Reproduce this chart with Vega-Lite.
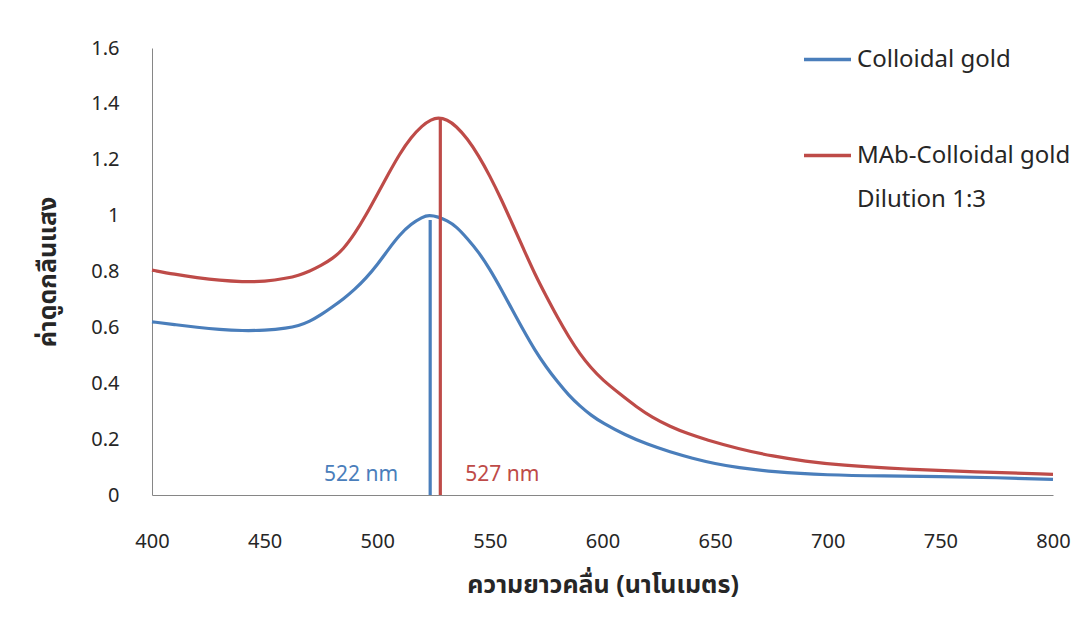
{
  "$schema": "https://vega.github.io/schema/vega-lite/v6.json",
  "width": 901,
  "height": 447,
  "autosize": {"type": "none"},
  "padding": {"left": 152, "top": 48, "right": 35, "bottom": 135},
  "background": "white",
  "config": {"view": {"stroke": null}, "font": "Noto Sans"},
  "layer": [
    {
      "data": {
        "values": [
          {"wl": 400, "abs": 0.620, "series": "Colloidal gold"},
          {"wl": 410, "abs": 0.610, "series": "Colloidal gold"},
          {"wl": 420, "abs": 0.600, "series": "Colloidal gold"},
          {"wl": 430, "abs": 0.592, "series": "Colloidal gold"},
          {"wl": 440, "abs": 0.588, "series": "Colloidal gold"},
          {"wl": 450, "abs": 0.589, "series": "Colloidal gold"},
          {"wl": 460, "abs": 0.597, "series": "Colloidal gold"},
          {"wl": 465, "abs": 0.606, "series": "Colloidal gold"},
          {"wl": 470, "abs": 0.621, "series": "Colloidal gold"},
          {"wl": 475, "abs": 0.645, "series": "Colloidal gold"},
          {"wl": 480, "abs": 0.673, "series": "Colloidal gold"},
          {"wl": 485, "abs": 0.702, "series": "Colloidal gold"},
          {"wl": 490, "abs": 0.736, "series": "Colloidal gold"},
          {"wl": 495, "abs": 0.776, "series": "Colloidal gold"},
          {"wl": 500, "abs": 0.824, "series": "Colloidal gold"},
          {"wl": 505, "abs": 0.880, "series": "Colloidal gold"},
          {"wl": 510, "abs": 0.932, "series": "Colloidal gold"},
          {"wl": 515, "abs": 0.970, "series": "Colloidal gold"},
          {"wl": 520, "abs": 0.995, "series": "Colloidal gold"},
          {"wl": 523, "abs": 1.002, "series": "Colloidal gold"},
          {"wl": 527, "abs": 0.996, "series": "Colloidal gold"},
          {"wl": 531, "abs": 0.982, "series": "Colloidal gold"},
          {"wl": 535, "abs": 0.962, "series": "Colloidal gold"},
          {"wl": 540, "abs": 0.918, "series": "Colloidal gold"},
          {"wl": 545, "abs": 0.870, "series": "Colloidal gold"},
          {"wl": 550, "abs": 0.808, "series": "Colloidal gold"},
          {"wl": 555, "abs": 0.737, "series": "Colloidal gold"},
          {"wl": 560, "abs": 0.662, "series": "Colloidal gold"},
          {"wl": 565, "abs": 0.588, "series": "Colloidal gold"},
          {"wl": 570, "abs": 0.518, "series": "Colloidal gold"},
          {"wl": 575, "abs": 0.458, "series": "Colloidal gold"},
          {"wl": 580, "abs": 0.405, "series": "Colloidal gold"},
          {"wl": 585, "abs": 0.357, "series": "Colloidal gold"},
          {"wl": 590, "abs": 0.318, "series": "Colloidal gold"},
          {"wl": 595, "abs": 0.285, "series": "Colloidal gold"},
          {"wl": 600, "abs": 0.258, "series": "Colloidal gold"},
          {"wl": 610, "abs": 0.215, "series": "Colloidal gold"},
          {"wl": 620, "abs": 0.181, "series": "Colloidal gold"},
          {"wl": 630, "abs": 0.154, "series": "Colloidal gold"},
          {"wl": 640, "abs": 0.131, "series": "Colloidal gold"},
          {"wl": 650, "abs": 0.112, "series": "Colloidal gold"},
          {"wl": 660, "abs": 0.098, "series": "Colloidal gold"},
          {"wl": 675, "abs": 0.083, "series": "Colloidal gold"},
          {"wl": 700, "abs": 0.071, "series": "Colloidal gold"},
          {"wl": 725, "abs": 0.068, "series": "Colloidal gold"},
          {"wl": 750, "abs": 0.066, "series": "Colloidal gold"},
          {"wl": 775, "abs": 0.062, "series": "Colloidal gold"},
          {"wl": 800, "abs": 0.056, "series": "Colloidal gold"},
          {"wl": 400, "abs": 0.805, "series": "MAb-Colloidal gold"},
          {"wl": 410, "abs": 0.790, "series": "MAb-Colloidal gold"},
          {"wl": 420, "abs": 0.778, "series": "MAb-Colloidal gold"},
          {"wl": 430, "abs": 0.768, "series": "MAb-Colloidal gold"},
          {"wl": 440, "abs": 0.763, "series": "MAb-Colloidal gold"},
          {"wl": 450, "abs": 0.764, "series": "MAb-Colloidal gold"},
          {"wl": 460, "abs": 0.776, "series": "MAb-Colloidal gold"},
          {"wl": 465, "abs": 0.786, "series": "MAb-Colloidal gold"},
          {"wl": 470, "abs": 0.801, "series": "MAb-Colloidal gold"},
          {"wl": 475, "abs": 0.821, "series": "MAb-Colloidal gold"},
          {"wl": 480, "abs": 0.845, "series": "MAb-Colloidal gold"},
          {"wl": 485, "abs": 0.880, "series": "MAb-Colloidal gold"},
          {"wl": 490, "abs": 0.935, "series": "MAb-Colloidal gold"},
          {"wl": 495, "abs": 1.002, "series": "MAb-Colloidal gold"},
          {"wl": 500, "abs": 1.076, "series": "MAb-Colloidal gold"},
          {"wl": 505, "abs": 1.150, "series": "MAb-Colloidal gold"},
          {"wl": 510, "abs": 1.222, "series": "MAb-Colloidal gold"},
          {"wl": 515, "abs": 1.280, "series": "MAb-Colloidal gold"},
          {"wl": 520, "abs": 1.323, "series": "MAb-Colloidal gold"},
          {"wl": 524, "abs": 1.344, "series": "MAb-Colloidal gold"},
          {"wl": 527, "abs": 1.351, "series": "MAb-Colloidal gold"},
          {"wl": 531, "abs": 1.344, "series": "MAb-Colloidal gold"},
          {"wl": 535, "abs": 1.321, "series": "MAb-Colloidal gold"},
          {"wl": 540, "abs": 1.276, "series": "MAb-Colloidal gold"},
          {"wl": 545, "abs": 1.215, "series": "MAb-Colloidal gold"},
          {"wl": 550, "abs": 1.142, "series": "MAb-Colloidal gold"},
          {"wl": 555, "abs": 1.060, "series": "MAb-Colloidal gold"},
          {"wl": 560, "abs": 0.970, "series": "MAb-Colloidal gold"},
          {"wl": 565, "abs": 0.880, "series": "MAb-Colloidal gold"},
          {"wl": 570, "abs": 0.790, "series": "MAb-Colloidal gold"},
          {"wl": 575, "abs": 0.712, "series": "MAb-Colloidal gold"},
          {"wl": 580, "abs": 0.636, "series": "MAb-Colloidal gold"},
          {"wl": 585, "abs": 0.566, "series": "MAb-Colloidal gold"},
          {"wl": 590, "abs": 0.504, "series": "MAb-Colloidal gold"},
          {"wl": 595, "abs": 0.454, "series": "MAb-Colloidal gold"},
          {"wl": 600, "abs": 0.412, "series": "MAb-Colloidal gold"},
          {"wl": 608, "abs": 0.360, "series": "MAb-Colloidal gold"},
          {"wl": 615, "abs": 0.316, "series": "MAb-Colloidal gold"},
          {"wl": 622, "abs": 0.278, "series": "MAb-Colloidal gold"},
          {"wl": 630, "abs": 0.245, "series": "MAb-Colloidal gold"},
          {"wl": 638, "abs": 0.219, "series": "MAb-Colloidal gold"},
          {"wl": 646, "abs": 0.198, "series": "MAb-Colloidal gold"},
          {"wl": 660, "abs": 0.166, "series": "MAb-Colloidal gold"},
          {"wl": 676, "abs": 0.138, "series": "MAb-Colloidal gold"},
          {"wl": 690, "abs": 0.121, "series": "MAb-Colloidal gold"},
          {"wl": 705, "abs": 0.107, "series": "MAb-Colloidal gold"},
          {"wl": 735, "abs": 0.092, "series": "MAb-Colloidal gold"},
          {"wl": 765, "abs": 0.083, "series": "MAb-Colloidal gold"},
          {"wl": 800, "abs": 0.074, "series": "MAb-Colloidal gold"}
        ]
      },
      "mark": {"type": "line", "strokeWidth": 3.2, "interpolate": "basis"},
      "encoding": {
        "x": {
          "field": "wl",
          "type": "quantitative",
          "scale": {"domain": [400, 800], "nice": false, "zero": false},
          "axis": {
            "values": [400, 450, 500, 550, 600, 650, 700, 750, 800],
            "title": "ความยาวคลื่น (นาโนเมตร)",
            "domainColor": "#868686",
            "domainWidth": 1,
            "ticks": false,
            "grid": false,
            "labelFlush": false,
            "labelFont": "Noto Sans",
            "labelFontSize": 20,
            "labelColor": "#262626",
            "labelPadding": 36,
            "titleFont": "Noto Sans Thai, Noto Sans, sans-serif",
            "titleFontSize": 25,
            "titleFontWeight": "bold",
            "titleColor": "#262626",
            "titlePadding": 21
          }
        },
        "y": {
          "field": "abs",
          "type": "quantitative",
          "scale": {"domain": [0, 1.6], "nice": false},
          "axis": {
            "values": [0, 0.2, 0.4, 0.6, 0.8, 1, 1.2, 1.4, 1.6],
            "format": ".1~f",
            "title": "ค่าดูดกลืนแสง",
            "domainColor": "#868686",
            "domainWidth": 1,
            "ticks": false,
            "grid": false,
            "labelFont": "Noto Sans",
            "labelFontSize": 20,
            "labelColor": "#262626",
            "labelPadding": 33,
            "titleFont": "Noto Sans Thai, Noto Sans, sans-serif",
            "titleFontSize": 25,
            "titleFontWeight": "bold",
            "titleColor": "#262626",
            "titlePadding": 30
          }
        },
        "color": {
          "field": "series",
          "type": "nominal",
          "scale": {"domain": ["Colloidal gold", "MAb-Colloidal gold"], "range": ["#4A7EBB", "#BE4B48"]},
          "legend": {
            "title": null,
            "orient": "none",
            "legendX": 650,
            "legendY": -14,
            "symbolType": "stroke",
            "symbolSize": 2209,
            "symbolStrokeWidth": 3.5,
            "labelFont": "Noto Sans",
            "labelFontSize": 24,
            "labelColor": "#262626",
            "labelOffset": 4,
            "labelLimit": 400,
            "rowPadding": 58,
            "labelExpr": "datum.label == 'MAb-Colloidal gold' ? ['MAb-Colloidal gold', 'Dilution 1:3'] : datum.label",
            "encode": {"labels": {"update": {"lineHeight": {"value": 44}}}}
          }
        }
      }
    },
    {
      "data": {"values": [{"wl": 523.5, "peak": 0.984, "label": "522 nm"}]},
      "layer": [
        {
          "mark": {"type": "rule", "color": "#4A7EBB", "strokeWidth": 3.2},
          "encoding": {
            "x": {"field": "wl", "type": "quantitative"},
            "y": {"field": "peak", "type": "quantitative"},
            "y2": {"datum": 0}
          }
        },
        {
          "mark": {"type": "text", "color": "#4A7EBB", "align": "right", "baseline": "alphabetic", "dx": -32, "dy": -14, "fontSize": 21, "font": "Noto Sans"},
          "encoding": {
            "x": {"field": "wl", "type": "quantitative"},
            "y": {"datum": 0},
            "text": {"field": "label"}
          }
        }
      ]
    },
    {
      "data": {"values": [{"wl": 528, "peak": 1.348, "label": "527 nm"}]},
      "layer": [
        {
          "mark": {"type": "rule", "color": "#BE4B48", "strokeWidth": 3.2},
          "encoding": {
            "x": {"field": "wl", "type": "quantitative"},
            "y": {"field": "peak", "type": "quantitative"},
            "y2": {"datum": 0}
          }
        },
        {
          "mark": {"type": "text", "color": "#BE4B48", "align": "left", "baseline": "alphabetic", "dx": 25, "dy": -14, "fontSize": 21, "font": "Noto Sans"},
          "encoding": {
            "x": {"field": "wl", "type": "quantitative"},
            "y": {"datum": 0},
            "text": {"field": "label"}
          }
        }
      ]
    }
  ]
}
